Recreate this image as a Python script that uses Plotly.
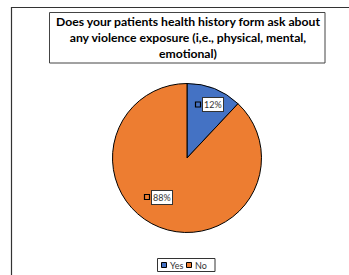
import plotly.graph_objects as go

# ---- data ----
categories = ["Yes", "No"]
values = [12, 88]
colors = ["#4472C4", "#ED7D31"]
title_text = ("Does your patients health history form ask about<br>"
              "any violence exposure (i,e., physical, mental,<br>emotional)")

W, H = 349, 275
def px(x):
    return x / W
def py(y):
    return 1 - y / H

cx, cy, r = 187.0, 158.0, 74.5

fig = go.Figure()
fig.add_trace(go.Pie(
    labels=categories, values=values, sort=False, direction="clockwise", rotation=0,
    marker=dict(colors=colors, line=dict(color="#000000", width=1)),
    textinfo="none", hoverinfo="label+percent", showlegend=False,
    domain=dict(x=[px(cx - r), px(cx + r)], y=[py(cy + r), py(cy - r)]),
))

shapes = []
annotations = []
# outer chart border
shapes.append(dict(type="rect", xref="paper", yref="paper",
                   x0=px(11.5), x1=px(360), y0=py(7.5), y1=py(290),
                   line=dict(color="#333333", width=1.2), fillcolor="rgba(0,0,0,0)"))
# title box
shapes.append(dict(type="rect", xref="paper", yref="paper",
                   x0=px(49.5), x1=px(325), y0=py(12.5), y1=py(63),
                   line=dict(color="#444444", width=1), fillcolor="white"))
annotations.append(dict(xref="paper", yref="paper", x=px(187.5), y=py(37.5), text="<b>" + title_text + "</b>",
                        showarrow=False, xanchor="center", yanchor="middle",
                        font=dict(family="Lato", size=12.2, color="#000000")))

# data labels: value % with small legend key
total = sum(values)
label_pos = [(213, 104.5), (162, 197)]
for i, (lx, ly) in enumerate(label_pos):
    pct = round(values[i] / total * 100)
    annotations.append(dict(xref="paper", yref="paper", x=px(lx), y=py(ly), text=f"{pct}%",
                            showarrow=False, xanchor="center", yanchor="middle",
                            bgcolor="white", bordercolor="#333333", borderwidth=1, borderpad=1,
                            font=dict(family="Lato", size=9, color="#333333")))
    kx = lx - 15
    shapes.append(dict(type="rect", xref="paper", yref="paper",
                       x0=px(kx - 2.5), x1=px(kx + 2.5), y0=py(ly + 2.5), y1=py(ly - 2.5),
                       line=dict(color="#000000", width=1.2), fillcolor=colors[i]))

# legend
shapes.append(dict(type="rect", xref="paper", yref="paper",
                   x0=px(157.5), x1=px(215), y0=py(258.5), y1=py(271.5),
                   line=dict(color="#333333", width=1), fillcolor="white"))
leg_x = [164, 189]
for i, c in enumerate(categories):
    shapes.append(dict(type="rect", xref="paper", yref="paper",
                       x0=px(leg_x[i] - 2.5), x1=px(leg_x[i] + 2.5), y0=py(267.5), y1=py(262.5),
                       line=dict(color="#000000", width=1), fillcolor=colors[i]))
    annotations.append(dict(xref="paper", yref="paper", x=px(leg_x[i] + 4), y=py(265), text=c,
                            showarrow=False, xanchor="left", yanchor="middle",
                            font=dict(family="Lato", size=9, color="#333333")))

fig.update_layout(width=W, height=H, margin=dict(l=0, r=0, t=0, b=0),
                  paper_bgcolor="white", plot_bgcolor="white",
                  shapes=shapes, annotations=annotations)
fig.write_html("out.html", config={"displayModeBar": False},
               post_script="document.body.style.margin='0';document.body.style.padding='0';")
